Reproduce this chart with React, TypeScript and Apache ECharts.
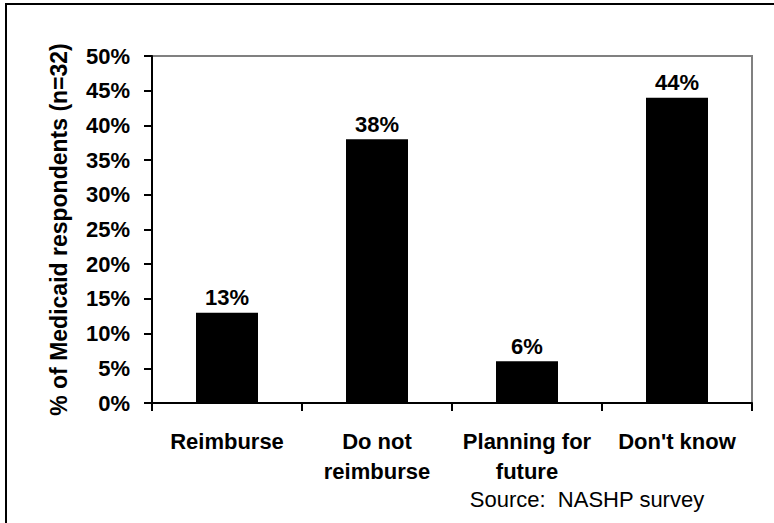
import React, { useEffect, useRef } from "react";
import * as echarts from "echarts";

const categories = ["Reimburse", "Do not\nreimburse", "Planning for\nfuture", "Don't know"];
const values = [13, 38, 6, 44];
const yAxisTitle = "% of Medicaid respondents (n=32)";
const sourceNote = "Source:  NASHP survey";

const FONT = "'Liberation Sans', Arial, Helvetica, sans-serif";

export default function App() {
  const ref = useRef<HTMLDivElement>(null);
  useEffect(() => {
    if (!ref.current) return;
    const chart = echarts.init(ref.current, undefined, { renderer: "svg" });
    chart.setOption({
      animation: false,
      backgroundColor: "#ffffff",
      grid: {
        left: 152,
        right: 22,
        top: 56,
        bottom: 120,
        show: true,
        borderColor: "#808080",
        borderWidth: 2,
        backgroundColor: "transparent",
      },
      xAxis: {
        type: "category",
        data: categories,
        axisLine: { show: true, lineStyle: { color: "#000", width: 2 } },
        axisTick: { show: true, length: 8, lineStyle: { color: "#000", width: 2 } },
        splitLine: { show: false },
        axisLabel: {
          interval: 0,
          margin: 23,
          color: "#000",
          fontFamily: FONT,
          fontWeight: "bold",
          fontSize: 22,
          lineHeight: 30,
        },
      },
      yAxis: {
        type: "value",
        min: 0,
        max: 50,
        interval: 5,
        name: yAxisTitle,
        nameLocation: "middle",
        nameGap: 82,
        nameTextStyle: {
          color: "#000",
          fontFamily: FONT,
          fontWeight: "bold",
          fontSize: 23,
        },
        axisLine: { show: true, lineStyle: { color: "#000", width: 2 } },
        axisTick: { show: true, length: 8, lineStyle: { color: "#000", width: 2 } },
        splitLine: { show: false },
        axisLabel: {
          formatter: "{value}%",
          margin: 22,
          color: "#000",
          fontFamily: FONT,
          fontWeight: "bold",
          fontSize: 22,
        },
      },
      series: [
        {
          type: "bar",
          data: values,
          barWidth: 62,
          itemStyle: { color: "#000" },
          label: {
            show: true,
            position: "top",
            distance: 4,
            formatter: "{c}%",
            color: "#000",
            fontFamily: FONT,
            fontWeight: "bold",
            fontSize: 22,
            lineHeight: 22,
          },
        },
      ],
      graphic: [
        {
          type: "rect",
          shape: { x: 6, y: 4, width: 820, height: 600 },
          style: { fill: "none", stroke: "#000", lineWidth: 2 },
          silent: true,
        },
        {
          type: "text",
          x: 587,
          y: 499,
          style: {
            text: sourceNote,
            fill: "#000",
            font: `normal 22px ${FONT}`,
            textAlign: "center",
            textVerticalAlign: "middle",
          },
          silent: true,
        },
      ],
    });
    return () => chart.dispose();
  }, []);
  return (
    <div
      ref={ref}
      style={{ position: "absolute", left: 0, top: 0, width: 774, height: 523 }}
    />
  );
}
